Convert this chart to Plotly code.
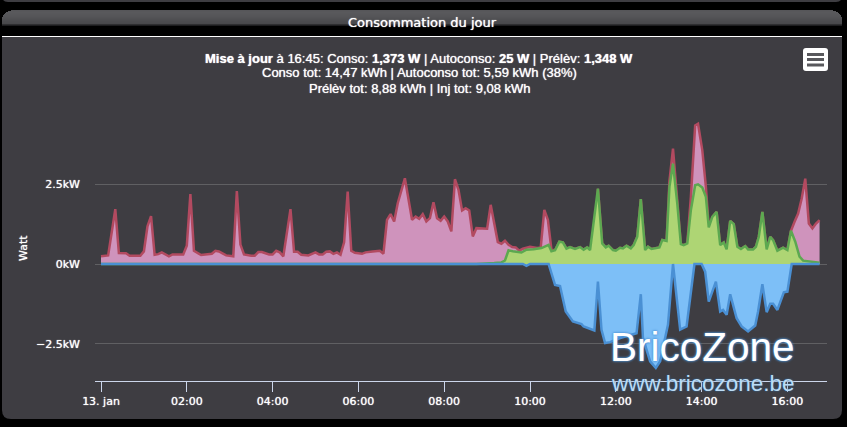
import pandas as pd
import plotly.graph_objects as go

W, H = 847, 427
CARD = "#3e3d42"

# minutes since midnight, watts
conso_min = [0,10,20,25,35,40,55,60,65,70,75,80,85,95,100,115,120,125,130,140,155,160,165,175,185,190,195,200,210,215,220,225,235,240,245,250,255,265,270,275,280,290,300,305,310,315,320,325,330,335,340,345,350,355,365,370,380,385,390,395,400,405,410,415,425,435,440,445,450,455,460,465,470,475,480,485,490,495,500,505,510,515,520,525,535,540,545,550,555,560,565,570,575,580,585,590,600,610,615,620,625,630,635,641,646,651,656,663,670,675,680,686,691,695,701,706,710,716,720,726,730,735,741,745,750,755,761,765,770,781,785,791,795,800,806,811,815,820,825,831,835,841,846,850,855,861,866,871,875,880,885,890,895,901,905,912,916,920,925,931,936,940,946,954,960,965,970,975,980,985,990,995,1000,1005]
conso_w = [240,270,1720,345,335,260,260,395,1180,1500,290,310,365,240,300,300,570,2190,415,280,320,415,395,270,240,2290,610,300,260,260,375,375,300,300,415,365,240,1720,385,385,290,270,365,300,300,385,395,320,365,290,680,2270,415,350,320,365,395,395,417,323,1386,1563,1334,1907,2688,1386,1490,1417,1563,1334,1438,1938,1438,1354,1490,1334,1021,2657,2324,1677,1750,1677,865,1125,1125,1104,1855,1230,688,636,730,605,532,521,417,479,542,500,520,1698,1386,448,430,700,680,480,530,470,530,450,520,440,560,2360,646,520,573,438,417,510,490,573,490,594,854,2032,438,542,469,521,750,719,2600,3616,1896,625,594,646,2105,4345,4397,3564,2417,1146,1480,1636,594,677,458,1355,1250,542,469,563,458,458,542,854,1636,458,854,750,417,510,438,1042,1323,1584,2053,2678,1271,1115,1271,1375]

auto_min = [0,525,550,560,565,570,576,588,595,605,616,626,630,635,641,646,651,656,663,670,675,680,684,695,701,706,710,716,720,726,730,735,741,745,750,755,761,765,770,781,785,791,795,800,806,811,815,820,825,831,835,841,846,850,855,861,866,871,875,880,885,890,895,901,905,912,916,920,925,931,936,940,946,954,960,965,971,977,982,992,1005]
auto_w = [0,0,30,50,110,430,400,360,450,460,500,600,400,430,700,680,480,530,470,530,450,520,440,2365,646,520,573,438,417,510,490,573,490,594,854,2032,438,542,469,521,750,719,2417,3147,1896,625,594,646,1690,2470,2500,2397,2105,1146,1480,1636,594,677,458,1355,1250,542,469,563,458,458,542,854,1636,458,854,750,417,510,438,1042,698,229,104,73,42]

inj_min = [0,590,595,600,626,635,642,650,660,672,675,681,690,695,700,705,712,726,749,755,758,768,776,782,789,793,800,810,819,830,840,845,850,860,866,870,875,880,889,896,905,915,919,925,931,936,940,946,955,960,966,1005]
inj_w = [0,0,-60,0,0,-656,-688,-1490,-1800,-1886,-1960,-2010,-2084,-552,-2063,-2480,-2450,-2320,-2170,-948,-2320,-3050,-3260,-3050,-2320,-1900,0,-2060,-1960,0,0,-240,-1180,-552,-1490,-1440,-1594,-948,-1700,-1960,-2115,-1930,-1490,-636,-1510,-1250,-1250,-1440,-886,-865,0,0]

tick_hours = [0,2,4,6,8,10,12,14,16]
tick_labels = ["13. jan","02:00","04:00","06:00","08:00","10:00","12:00","14:00","16:00"]
y_ticks = [-2500,0,2500]
y_labels = ["−2.5kW","0kW","2.5kW"]

day = pd.Timestamp("2021-01-13")
t = lambda m: [day + pd.Timedelta(minutes=v) for v in m]

fig = go.Figure()
series = [
    (conso_min, conso_w, "#cf93bc", "#b24a60", "Conso"),
    (auto_min, auto_w, "#aed574", "#5ca850", "Autoconso"),
    (inj_min, inj_w, "#7dbff7", "#4a90d4", "Injection"),
]
for m, v, fill, line, name in series:
    fig.add_trace(go.Scatter(x=t(m), y=v, mode="lines", name=name, fill="tozeroy",
                             fillcolor=fill, line=dict(color=line, width=2.5), hoverinfo="skip"))

px = lambda x: x / W
py = lambda y: 1 - y / H

def rrect(x0, y0, x1, y1, r):
    a, b, c, d = px(x0), py(y0), px(x1), py(y1)
    rx, ry = r / W, r / H
    return (f"M{a+rx},{b} L{c-rx},{b} Q{c},{b} {c},{b-ry} L{c},{d+ry} Q{c},{d} {c-rx},{d} "
            f"L{a+rx},{d} Q{a},{d} {a},{d+ry} L{a},{b-ry} Q{a},{b} {a+rx},{b} Z")

shapes = [
    dict(type="path", path=rrect(2, -12, 842, 2, 6), fillcolor=CARD, line_width=0),
    dict(type="path", path=rrect(2, 37, 842, 419, 9), fillcolor=CARD, line_width=0),
    dict(type="rect", x0=px(2), x1=px(842), y0=py(37), y1=py(50), fillcolor=CARD, line_width=0),
]
grad = ["#565659","#58585b","#59595c","#58585b","#57575a","#565659","#555558","#535356","#515154","#4f4f52","#4d4d50","#4b4b4e","#4a4a4d","#48484b","#2e2e30","#1c1c1e"]
for i, c in enumerate(grad):
    inset = [9, 6, 4, 3, 2, 1, 1][i] if i < 7 else 0
    shapes.append(dict(type="rect", x0=px(2 + inset), x1=px(842 - inset), y0=py(10 + i), y1=py(11 + i),
                       fillcolor=c, line_width=0))
shapes.append(dict(type="rect", x0=px(2), x1=px(842), y0=py(36), y1=py(37), fillcolor="#ffffff", line_width=0))
shapes.append(dict(type="path", path=rrect(803, 48, 828, 71, 3), fillcolor="#ffffff", line_width=0))
for y0 in (53, 58, 63.5):
    shapes.append(dict(type="rect", x0=px(807), x1=px(824), y0=py(y0), y1=py(y0 + 3), fillcolor="#58585c", line_width=0))

def note(text, x, y, size, family="Liberation Sans", color="#ffffff", **kw):
    return dict(text=text, x=px(x), y=py(y), xref="paper", yref="paper", showarrow=False,
                xanchor="center", yanchor="middle", font=dict(size=size, family=family, color=color, **kw))

annotations = [
    note("Consommation du jour", 422, 23, 13, "DejaVu Sans", shadow="0 0 1px #fff"),
    note("<b>Mise à jour</b> à 16:45: Conso: <b>1,373 W</b> | Autoconso: <b>25 W</b> | Prélèv: <b>1,348 W</b>", 418.5, 59, 13, shadow="0 0 1px #fff"),
    note("Conso tot: 14,47 kWh | Autoconso tot: 5,59 kWh (38%)", 419.5, 73, 13, shadow="0 0 1px #fff"),
    note("Prélèv tot: 8,88 kWh | Inj tot: 9,08 kWh", 420, 88, 13, shadow="0 0 1px #fff"),
    note("Watt", 23, 248, 11, "DejaVu Sans", shadow="0 0 1px #fff"),
    note("BricoZone", 702, 347, 40.5, "Liberation Sans", "#ffffff", shadow="0 0 3px #4a90d4, 0 0 2px #4a90d4"),
    note("www.bricozone.be", 702.5, 383, 22.5, "Liberation Sans", "#bcdcf5", shadow="0 0 2px #2f6fa8"),
]
annotations[4]["textangle"] = -90

x_left, x_right, px_per_hour, x_zero = 95, 827, 42.9, 101
y_top, y_bottom, y_zero, w_per_px = 110, 381, 264, 31.36
tick_font = dict(size=11, family="DejaVu Sans", color="#ffffff", shadow="0 0 1px #fff")

fig.update_layout(
    width=W, height=H, margin=dict(l=0, r=0, t=0, b=0), autosize=False,
    paper_bgcolor="#000000", plot_bgcolor="rgba(0,0,0,0)", showlegend=False,
    shapes=[{**s, "xref": "paper", "yref": "paper", "layer": "below"} for s in shapes],
    annotations=annotations,
    xaxis=dict(
        type="date", domain=[px(x_left), px(x_right)], automargin=False,
        range=[day + pd.Timedelta(hours=(x_left - x_zero) / px_per_hour),
               day + pd.Timedelta(hours=(x_right - x_zero) / px_per_hour)],
        tickmode="array", tickvals=[day + pd.Timedelta(hours=h) for h in tick_hours], ticktext=tick_labels,
        ticks="outside", ticklen=10, tickwidth=1, tickcolor="#ccd6eb",
        showline=True, linecolor="#ccd6eb", linewidth=1, showgrid=False, zeroline=False,
        tickfont=tick_font,
    ),
    yaxis=dict(
        domain=[py(y_bottom), py(y_top)], automargin=False,
        range=[(y_zero - y_bottom) * w_per_px, (y_zero - y_top) * w_per_px],
        tickmode="array", tickvals=y_ticks, ticktext=y_labels, ticks="", ticklabelstandoff=14,
        showgrid=True, gridcolor="#606063", gridwidth=1, zeroline=False, showline=False,
        tickfont=tick_font,
    ),
)
fig.write_html("out.html", config={"displayModeBar": False}, post_script="document.body.style.margin='0';")
